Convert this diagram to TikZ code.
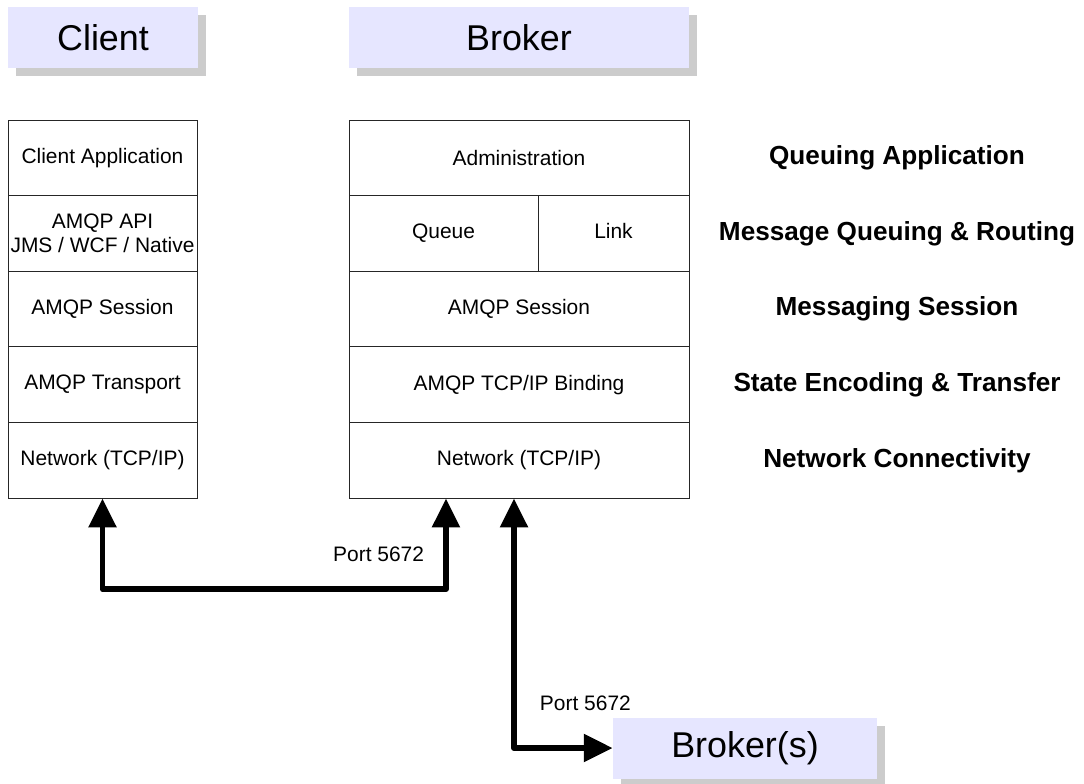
\documentclass[tikz,border=0pt]{standalone}
\usepackage{fontspec}
\setmainfont{Liberation Sans}
\usepackage{tikz}
\usetikzlibrary{arrows.meta,positioning,shadows,calc}
\usepackage{xcolor}

\definecolor{hdrfill}{HTML}{E6E6FF}
\definecolor{hdrshadow}{HTML}{CCCCCC}

\tikzset{
  hdr/.style={fill=hdrfill, inner sep=0pt, minimum height=1.525cm,
              font=\fontsize{25.5}{28}\selectfont,
              general shadow={fill=hdrshadow, shadow xshift=0.2cm, shadow yshift=-0.2cm}},
  layer/.style={draw=black!85, line width=0.6pt, inner sep=0pt, minimum height=1.89cm,
                align=center, font=\fontsize{14.9}{17}\selectfont},
  flat/.style={text height=0.72em, text depth=0em},
  role/.style={font=\bfseries\fontsize{18.6}{20}\selectfont},
  lbl/.style={font=\fontsize{14.9}{17}\selectfont},
  conn/.style={line width=4.25pt, line join=round,
               {Triangle[width=19pt,length=20.5pt]}-{Triangle[width=19pt,length=20.5pt]}}
}

\begin{document}
\begin{tikzpicture}[x=0.025cm, y=-0.025cm]
  \useasboundingbox (0,0) rectangle (1084,783);

  % headers
  \node[hdr, minimum width=4.75cm] (hclient) at (103,37.5) {Client};
  \node[hdr, minimum width=8.5cm] (hbroker) at (519,37.5) {Broker};

  % client stack
  \node[layer, minimum width=4.725cm] (capp)   at (102.5,157.8) {Client Application};
  \node[layer, minimum width=4.725cm] (capi)   at (102.5,233.4) {AMQP API\\JMS / WCF / Native};
  \node[layer, minimum width=4.725cm] (csess)  at (102.5,309)   {AMQP Session};
  \node[layer, minimum width=4.725cm] (ctrans) at (102.5,384.6) {AMQP Transport};
  \node[layer, minimum width=4.725cm] (cnet)   at (102.5,460.2) {Network (TCP/IP)};

  % broker stack
  \node[layer, minimum width=8.5cm]   (badm)  at (519,157.8)   {Administration};
  \node[layer, flat, minimum width=4.725cm] (bque)  at (443.5,233.4) {Queue};
  \node[layer, flat, minimum width=3.775cm] (blink) at (613.5,233.4) {Link};
  \node[layer, minimum width=8.5cm]   (bsess) at (519,309)     {AMQP Session};
  \node[layer, minimum width=8.5cm]   (bbind) at (519,384.6)   {AMQP TCP/IP Binding};
  \node[layer, minimum width=8.5cm]   (bnet)  at (519,460.2)   {Network (TCP/IP)};

  % layer roles
  \node[role] (rapp)  at (897,158) {Queuing Application};
  \node[role] (rrout) at (897,234) {Message Queuing \& Routing};
  \node[role] (rsess) at (897,309) {Messaging Session};
  \node[role] (renc)  at (897,385) {State Encoding \& Transfer};
  \node[role] (rnet)  at (897,461) {Network Connectivity};

  % other brokers
  \node[hdr, minimum width=6.6cm] (brokers) at (745,748) {Broker(s)};

  % connections
  \draw[conn] (cnet.south) -- (cnet.south |- 0,589) -| ([xshift=-1.825cm]bnet.south);
  \draw[conn] ([xshift=-0.125cm]bnet.south) |- (brokers.west);

  \node[lbl, anchor=east] (port1) at (429,554) {Port 5672};
  \node[lbl, anchor=west] (port2) at (535,703) {Port 5672};
\end{tikzpicture}
\end{document}
